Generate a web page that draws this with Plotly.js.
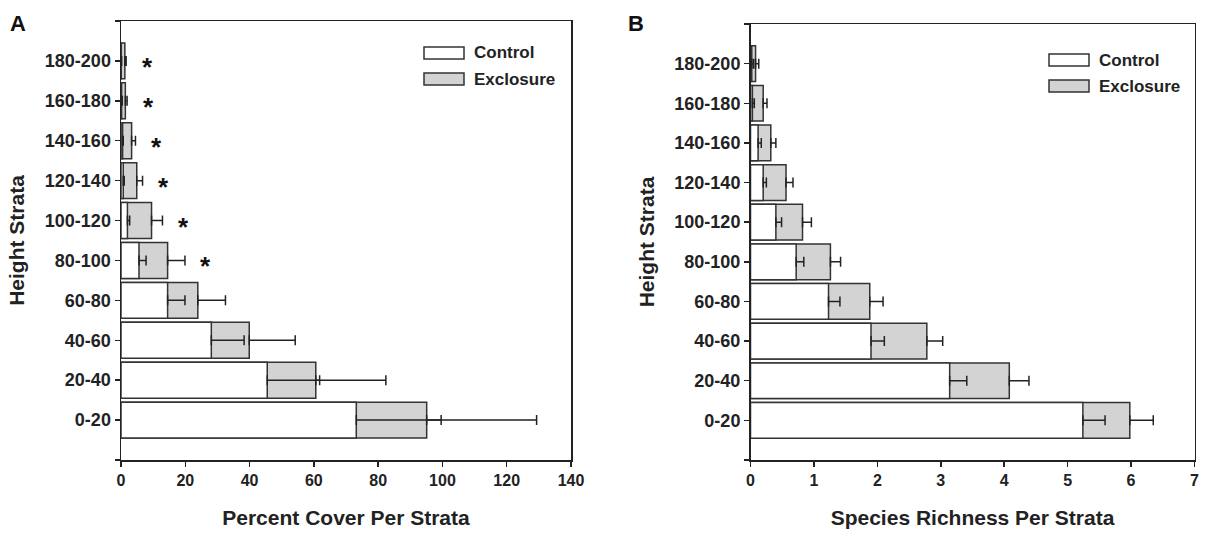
<!DOCTYPE html>
<html>
<head>
<meta charset="utf-8">
<script src="https://cdn.plot.ly/plotly-3.0.1.min.js"></script>
<style>html,body{margin:0;padding:0;background:#fff;}#chart{width:1206px;height:535px;}</style>
</head>
<body>
<div id="chart"></div>
<script>
// ---- data ----
const strata = ["0-20","20-40","40-60","60-80","80-100","100-120","120-140","140-160","160-180","180-200"];

// Panel A: percent cover per strata
const coverControl     = [73.2, 45.5, 28.1, 14.5, 5.6, 2.0, 0.7, 0.5, 0.2, 0.1];
const coverControlSE   = [26.4, 16.3, 10.2, 5.4, 2.2, 0.7, 0.3, 0.2, 0.2, 0.1];
const coverExclosure   = [95.1, 60.6, 39.9, 23.9, 14.5, 9.5, 4.9, 3.3, 1.35, 1.2];
const coverExclosureSE = [34.2, 21.8, 14.3, 8.6, 5.4, 3.4, 1.8, 1.2, 0.55, 0.4];
const coverSignificant = [false, false, false, false, true, true, true, true, true, true];

// Panel B: species richness per strata
const richControl     = [5.24, 3.14, 1.90, 1.23, 0.72, 0.40, 0.20, 0.12, 0.03, 0.02];
const richControlSE   = [0.35, 0.27, 0.21, 0.18, 0.12, 0.09, 0.05, 0.05, 0.03, 0.03];
const richExclosure   = [5.98, 4.08, 2.78, 1.88, 1.26, 0.82, 0.56, 0.32, 0.20, 0.08];
const richExclosureSE = [0.37, 0.31, 0.25, 0.21, 0.16, 0.14, 0.11, 0.08, 0.06, 0.05];

const seriesNames = ["Control", "Exclosure"];
// ---------------

const pos = strata.map((s, i) => i + 1);
const zeros = strata.map(() => 0);
const FONT = "Liberation Sans, Arial, Helvetica, sans-serif";
const lineCol = "#333333";
const grayFill = "#d3d3d3";

function barTrace(x, se, name, fill, xa, ya) {
  return {
    type: "bar", orientation: "h", x: x, y: pos, name: name,
    xaxis: xa, yaxis: ya, width: 0.9,
    marker: {color: fill, line: {color: lineCol, width: 1.5}},
    error_x: {type: "data", symmetric: false, array: se, arrayminus: zeros,
              color: "#222", thickness: 1.5, width: 5},
    showlegend: false, hoverinfo: "x+y"
  };
}

const traces = [
  barTrace(coverExclosure, coverExclosureSE, seriesNames[1], grayFill, "x", "y"),
  barTrace(coverControl, coverControlSE, seriesNames[0], "#ffffff", "x", "y"),
  barTrace(richExclosure, richExclosureSE, seriesNames[1], grayFill, "x2", "y2"),
  barTrace(richControl, richControlSE, seriesNames[0], "#ffffff", "x2", "y2")
];

const yTickVals = [0].concat(pos, [strata.length + 1]);
const yTickText = [""].concat(strata, [""]);

function yAxis(domain, anchor) {
  return {
    domain: domain, anchor: anchor, range: [0, strata.length + 1],
    tickvals: yTickVals, ticktext: yTickText,
    ticks: "outside", ticklen: 5, tickwidth: 1.5, tickcolor: "#222",
    showline: true, linecolor: "#222", linewidth: 1.5, mirror: true,
    showgrid: false, zeroline: false,
    tickfont: {size: 18, color: "#222", weight: "bold"},
    title: {text: "Height Strata", font: {size: 21, color: "#222", weight: "bold"}, standoff: 14}
  };
}
function xAxis(domain, anchor, range, dtick, title) {
  return {
    domain: domain, anchor: anchor, range: range, dtick: dtick, tick0: 0,
    ticks: "outside", ticklen: 5, tickwidth: 1.5, tickcolor: "#222",
    showline: true, linecolor: "#222", linewidth: 1.5, mirror: true,
    showgrid: false, zeroline: false,
    tickfont: {size: 16, color: "#222", weight: "bold"},
    title: {text: title, font: {size: 21, color: "#222", weight: "bold"}, standoff: 22}
  };
}

const W = 1206, H = 535;
const px = v => v / W, py = v => 1 - v / H;

const annotations = [
  {text: "A", xref: "paper", yref: "paper", x: px(8), y: py(9), xanchor: "left", yanchor: "top",
   showarrow: false, font: {size: 22, color: "#111", weight: "bold"}},
  {text: "B", xref: "paper", yref: "paper", x: px(626), y: py(9), xanchor: "left", yanchor: "top",
   showarrow: false, font: {size: 22, color: "#111", weight: "bold"}}
];
coverSignificant.forEach((sig, i) => {
  if (!sig) return;
  annotations.push({text: "*", xref: "x", yref: "y",
    x: coverExclosure[i] + coverExclosureSE[i], y: pos[i],
    xshift: 21, yshift: -6, xanchor: "center", yanchor: "middle", showarrow: false,
    font: {size: 26, color: "#111", weight: "bold"}});
});

// manual legends (wide swatches)
const shapes = [];
function legend(x0, yc) {
  const fills = ["#ffffff", grayFill];
  seriesNames.forEach((nm, k) => {
    const y = yc + k * 26;
    shapes.push({type: "rect", xref: "paper", yref: "paper",
      x0: px(x0), x1: px(x0 + 40), y0: py(y - 6), y1: py(y + 6),
      fillcolor: fills[k], line: {color: lineCol, width: 1.5}});
    annotations.push({text: nm, xref: "paper", yref: "paper", x: px(x0 + 48), y: py(y),
      xanchor: "left", yanchor: "middle", showarrow: false,
      font: {size: 17, color: "#222", weight: "bold"}});
  });
}
legend(424, 53);
legend(1049, 60);

const layout = {
  width: W, height: H,
  margin: {l: 0, r: 0, t: 0, b: 0},
  paper_bgcolor: "#fff", plot_bgcolor: "#fff",
  font: {family: FONT, color: "#222", weight: "bold"},
  barmode: "overlay",
  showlegend: false,
  xaxis: xAxis([121 / W, 571 / W], "y", [0, 140], 20, "Percent Cover Per Strata"),
  yaxis: yAxis([1 - 460 / H, 1 - 21 / H], "x"),
  xaxis2: xAxis([750.5 / W, 1194.5 / W], "y2", [0, 7], 1, "Species Richness Per Strata"),
  yaxis2: yAxis([1 - 460 / H, 1 - 24 / H], "x2"),
  annotations: annotations,
  shapes: shapes
};

Plotly.newPlot("chart", traces, layout, {displayModeBar: false, staticPlot: true});
</script>
</body>
</html>
